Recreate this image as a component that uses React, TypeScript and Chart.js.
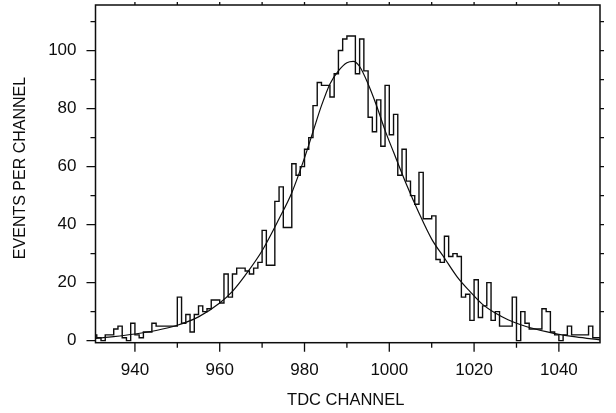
import React, { useEffect, useRef } from "react";
import { Chart, registerables } from "chart.js";

Chart.register(...registerables);

// Histogram: events per TDC channel, bins [c, c+1) starting at FIRST_CHANNEL
const FIRST_CHANNEL = 930;
const COUNTS = [
  2, 1, 0, 2, 2, 4, 5, 1, 0, 6, 2, 1, 3, 3, 6, 5, 5, 5, 5, 5,
  15, 6, 9, 3, 9, 12, 10, 11, 14, 14, 13, 23, 15, 23, 25, 25, 24, 23, 25, 27,
  38, 26, 26, 48, 53, 39, 39, 61, 57, 60, 66, 70, 81, 89, 88, 88, 84, 92, 100, 104,
  105, 105, 92, 104, 93, 77, 72, 83, 67, 88, 71, 78, 57, 66, 55, 50, 47, 58, 42, 42,
  43, 28, 27, 36, 29, 30, 29, 15, 16, 7, 21, 8, 12, 20, 7, 10, 5, 5, 5, 15,
  0, 10, 6, 4, 4, 4, 11, 10, 3, 2, 0, 2, 5, 2, 2, 2, 2, 5, 1, 1,
];

// Fitted curve at these channels
const FIT_CHANNELS = [
  930.7, 935, 940, 945, 950, 955, 960, 963, 966, 970, 974, 977, 980, 982, 984, 986, 988, 990,
  991.5, 993, 995, 997, 999, 1001, 1004, 1007, 1010, 1013, 1016, 1019, 1022, 1025, 1028, 1031,
  1034, 1037, 1040, 1044, 1049.7,
];
const FIT_VALUES = [
  0.8, 1.4, 2.3, 3.5, 5.3, 8.2, 13, 17, 22.5, 31, 42, 51, 63, 72, 81, 88.5, 93, 95.8,
  96.3, 94.5, 88.5, 81, 72.5, 65, 54, 44, 35, 28.5, 22, 17, 12.5, 9.5, 7.2, 5.5,
  4.2, 3.1, 2.2, 1.3, 0.3,
];

const X_TICKS = [940, 960, 980, 1000, 1020, 1040];
const X_MINOR = [950, 970, 990, 1010, 1030];
const X_TOP_TICKS = [940, 950, 960, 970, 980, 990, 1000, 1010, 1020, 1030, 1040];
const Y_TICKS = [0, 20, 40, 60, 80, 100];
const Y_MINOR = [10, 30, 50, 70, 90, 110];
const Y_RIGHT_TICKS = [10, 20, 30, 40, 50, 60, 70, 80, 90, 100, 110];
const X_TITLE = "TDC CHANNEL";
const Y_TITLE = "EVENTS PER CHANNEL";

const X_MIN = 930.7;
const X_MAX = 1049.7;
const Y_MIN = -0.7;
const Y_MAX = 115.7;

const INK = "#0d0d0d";
const FONT_FAMILY = '"Liberation Sans", Arial, Helvetica, sans-serif';

const framePlugin = {
  id: "frameAndTicks",
  afterDraw(chart: any) {
    const { ctx, chartArea: a } = chart;
    const xs = chart.scales.x;
    const ys = chart.scales.y;
    ctx.save();
    ctx.strokeStyle = INK;
    ctx.lineWidth = 1.5;
    ctx.strokeRect(a.left, a.top, a.right - a.left, a.bottom - a.top);

    ctx.lineWidth = 1.3;
    ctx.beginPath();
    for (const v of X_TICKS) {
      const p = xs.getPixelForValue(v);
      ctx.moveTo(p, a.bottom);
      ctx.lineTo(p, a.bottom + 9);
    }
    for (const v of X_MINOR) {
      const p = xs.getPixelForValue(v);
      ctx.moveTo(p, a.bottom);
      ctx.lineTo(p, a.bottom + 5);
    }
    for (const v of X_TOP_TICKS) {
      const p = xs.getPixelForValue(v);
      ctx.moveTo(p, a.top);
      ctx.lineTo(p, a.top - 3);
    }
    for (const v of Y_TICKS) {
      const p = ys.getPixelForValue(v);
      ctx.moveTo(a.left, p);
      ctx.lineTo(a.left - 9, p);
    }
    for (const v of Y_MINOR) {
      const p = ys.getPixelForValue(v);
      ctx.moveTo(a.left, p);
      ctx.lineTo(a.left - 5, p);
    }
    for (const v of Y_RIGHT_TICKS) {
      const p = ys.getPixelForValue(v);
      ctx.moveTo(a.right, p);
      ctx.lineTo(a.right + 4, p);
    }
    ctx.stroke();

    ctx.fillStyle = INK;
    ctx.textAlign = "center";
    ctx.textBaseline = "middle";
    ctx.font = `16.5px ${FONT_FAMILY}`;
    ctx.fillText(X_TITLE, (a.left + a.right) / 2 - 2, 400);
    ctx.translate(21, 168);
    ctx.rotate(-Math.PI / 2);
    ctx.font = `16px ${FONT_FAMILY}`;
    ctx.fillText(Y_TITLE, 0, 0);
    ctx.restore();
  },
};

const zeroPadding = (s: any) => {
  s.paddingTop = 0;
  s.paddingBottom = 0;
  s.paddingLeft = 0;
  s.paddingRight = 0;
};

export default function App() {
  const canvasRef = useRef<HTMLCanvasElement | null>(null);

  useEffect(() => {
    const canvas = canvasRef.current;
    if (!canvas) return;

    const histPoints = COUNTS.map((v, i) => ({ x: FIRST_CHANNEL + i, y: v }));
    histPoints.push({ x: FIRST_CHANNEL + COUNTS.length, y: COUNTS[COUNTS.length - 1] });
    const fitPoints = FIT_CHANNELS.map((c, i) => ({ x: c, y: FIT_VALUES[i] }));

    const tickFont = { family: FONT_FAMILY, size: 17 };

    const chart = new Chart(canvas, {
      type: "line",
      data: {
        datasets: [
          {
            label: "Events",
            data: histPoints,
            stepped: "before",
            borderColor: INK,
            borderWidth: 1.4,
            pointRadius: 0,
            fill: false,
            clip: 0,
          },
          {
            label: "Fit",
            data: fitPoints,
            borderColor: INK,
            borderWidth: 1.2,
            pointRadius: 0,
            fill: false,
            cubicInterpolationMode: "monotone",
            clip: 0,
          },
        ],
      },
      plugins: [framePlugin],
      options: {
        animation: false,
        responsive: false,
        devicePixelRatio: 1,
        events: [],
        layout: { autoPadding: false, padding: { top: 5, right: 16, left: 0, bottom: 0 } },
        plugins: {
          legend: { display: false },
          tooltip: { enabled: false },
          title: { display: false },
        },
        scales: {
          x: {
            type: "linear",
            min: X_MIN,
            max: X_MAX,
            grid: { display: false, drawTicks: false },
            border: { display: false },
            ticks: {
              font: tickFont,
              color: INK,
              padding: 17.1,
              maxRotation: 0,
              autoSkip: false,
              includeBounds: false,
              callback: (v: any) => String(v),
            },
            afterBuildTicks: (s: any) => {
              s.ticks = X_TICKS.map((v) => ({ value: v }));
            },
            afterFit: (s: any) => {
              s.height = 70.3;
              zeroPadding(s);
            },
          },
          y: {
            type: "linear",
            min: Y_MIN,
            max: Y_MAX,
            grid: { display: false, drawTicks: false },
            border: { display: false },
            ticks: {
              font: tickFont,
              color: INK,
              padding: 19,
              autoSkip: false,
              includeBounds: false,
              callback: (v: any) => String(v),
            },
            afterBuildTicks: (s: any) => {
              s.ticks = Y_TICKS.map((v) => ({ value: v }));
            },
            afterFit: (s: any) => {
              s.width = 95.5;
              zeroPadding(s);
            },
          },
        },
      },
    } as any);

    return () => chart.destroy();
  }, []);

  return (
    <div style={{ position: "fixed", left: 0, top: 0, width: 616, height: 413, background: "#fff" }}>
      <canvas ref={canvasRef} width={616} height={413} style={{ display: "block" }} />
    </div>
  );
}
